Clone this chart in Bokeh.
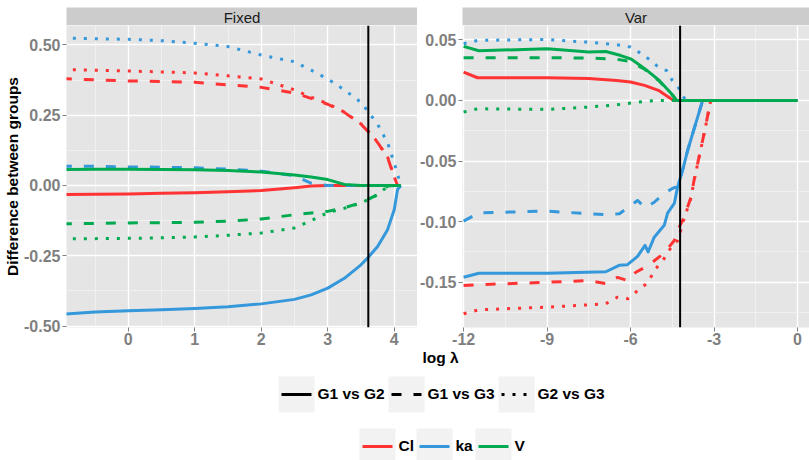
from bokeh.plotting import figure
from bokeh.models import Range1d, FixedTicker, Span, Spacer
from bokeh.layouts import row, column
from bokeh.core.properties import value
from bokeh.embed import file_html
from bokeh.resources import INLINE

FONT = "Liberation Sans"

# ---------------- data ----------------
params = ["Cl", "ka", "V"]
param_colors = ["#FF3333", "#3498DB", "#00AA50"]
comparisons = ["G1 vs G2", "G1 vs G3", "G2 vs G3"]
comparison_dashes = ["solid", "10 12", "3 8"]
panel_names = ["Fixed", "Var"]
vline_x = [3.61, -4.22]
x_title = "log \u03bb"
y_title = "Difference between groups"

# Fixed panel: shared log-lambda grid
fixed_x = [-1.0, -0.5, 0.0, 0.5, 1.0, 1.5, 2.0, 2.5, 2.75, 3.0, 3.25, 3.5, 3.6, 3.75, 3.9, 4.0, 4.05, 4.1]
fixed_cl_g1g2 = [-0.032, -0.031, -0.030, -0.028, -0.026, -0.022, -0.018, -0.008, -0.002, 0.0, 0.0, 0.0, 0.0, 0.0, 0.0, 0.0, 0.0, 0.0]
fixed_cl_g1g3 = [0.380, 0.376, 0.372, 0.370, 0.367, 0.358, 0.349, 0.329, 0.310, 0.289, 0.260, 0.218, 0.194, 0.153, 0.100, 0.030, 0.0, 0.0]
fixed_cl_g2g3 = [0.413, 0.410, 0.407, 0.404, 0.400, 0.390, 0.379, 0.340, 0.314, 0.291, 0.261, 0.219, 0.195, 0.154, 0.101, 0.031, 0.0, 0.0]
fixed_ka_g1g2 = [-0.458, -0.450, -0.445, -0.442, -0.437, -0.431, -0.421, -0.405, -0.389, -0.365, -0.330, -0.282, -0.258, -0.217, -0.157, -0.086, -0.014, 0.0]
fixed_ka_g1g3 = [0.069, 0.068, 0.066, 0.065, 0.063, 0.058, 0.051, 0.035, 0.008, 0.0, 0.0, 0.0, 0.0, 0.0, 0.0, 0.0, 0.0, 0.0]
fixed_ka_g2g3 = [0.525, 0.522, 0.520, 0.515, 0.506, 0.494, 0.464, 0.440, 0.410, 0.379, 0.340, 0.296, 0.265, 0.218, 0.152, 0.080, 0.040, 0.0]
fixed_v_g1g2 = [0.057, 0.058, 0.058, 0.057, 0.056, 0.053, 0.048, 0.037, 0.030, 0.021, 0.004, 0.0, 0.0, 0.0, 0.0, 0.0, 0.0, 0.0]
fixed_v_g1g3 = [-0.136, -0.135, -0.133, -0.132, -0.131, -0.127, -0.119, -0.104, -0.098, -0.092, -0.079, -0.061, -0.050, -0.032, -0.002, 0.0, 0.0, 0.0]
fixed_v_g2g3 = [-0.190, -0.189, -0.188, -0.186, -0.183, -0.177, -0.169, -0.151, -0.125, -0.097, -0.081, -0.062, -0.051, -0.033, -0.003, 0.0, 0.0, 0.0]

# Var panel: each series with its own log-lambda points
var_cl_g1g2_x = [-12.0, -11.5, -9.0, -7.5, -6.5, -6.0, -5.5, -5.0, -4.55, -4.45, 0.0]
var_cl_g1g2_y = [0.0234, 0.0187, 0.0187, 0.0180, 0.0165, 0.0152, 0.0124, 0.0083, 0.0014, 0.0, 0.0]
var_cl_g1g3_x = [-12.0, -11.45, -9.0, -7.5, -6.9, -6.47, -6.11, -5.81, -5.51, -5.21, -4.91, -4.67, -4.43, -4.25, -4.07, -3.83, -3.72, -3.54, -3.36, -3.24, -3.12, 0.0]
var_cl_g1g3_y = [-0.1526, -0.1520, -0.1500, -0.1485, -0.1510, -0.1460, -0.1485, -0.1417, -0.1380, -0.1334, -0.1280, -0.1224, -0.1155, -0.1045, -0.0960, -0.0800, -0.0660, -0.0468, -0.0275, -0.0138, 0.0, 0.0]
var_cl_g2g3_x = [-12.0, -11.45, -9.0, -6.9, -6.47, -6.1, -5.75, -5.4, -5.1, -4.8, -4.5, -4.3, -4.07, -3.83, -3.72, -3.54, -3.36, -3.24, -3.12, 0.0]
var_cl_g2g3_y = [-0.1760, -0.1727, -0.1705, -0.1678, -0.1623, -0.1636, -0.1570, -0.1507, -0.1390, -0.1306, -0.1196, -0.1155, -0.0970, -0.0805, -0.0665, -0.0472, -0.0278, -0.0140, 0.0, 0.0]
var_ka_g1g2_x = [-12.0, -11.45, -9.0, -6.89, -6.41, -6.11, -5.75, -5.48, -5.37, -5.15, -4.79, -4.67, -4.43, -4.31, -4.1, -3.95, -3.77, -3.59, -3.41, 0.0]
var_ka_g1g2_y = [-0.1458, -0.1425, -0.1425, -0.1413, -0.1360, -0.1355, -0.1287, -0.1196, -0.1250, -0.1128, -0.1030, -0.0930, -0.0850, -0.0715, -0.0550, -0.0413, -0.0275, -0.0138, 0.0, 0.0]
var_ka_g1g3_x = [-12.0, -11.45, -9.0, -6.9, -6.4, -5.75, -5.48, -5.15, -4.8, -4.45, -4.31, -4.1, -3.95, -3.77, -3.59, -3.41, 0.0]
var_ka_g1g3_y = [-0.0996, -0.0927, -0.0913, -0.0943, -0.0935, -0.0825, -0.0885, -0.0840, -0.0767, -0.0720, -0.0715, -0.0550, -0.0413, -0.0275, -0.0138, 0.0, 0.0]
var_ka_g2g3_x = [-12.0, -11.5, -9.0, -7.5, -6.5, -6.0, -5.5, -5.0, -4.7, -4.5, -4.3, -4.1, -4.0, 0.0]
var_ka_g2g3_y = [0.0468, 0.0495, 0.0503, 0.0480, 0.0460, 0.0440, 0.0370, 0.0275, 0.0245, 0.0165, 0.0115, 0.0030, 0.0, 0.0]
var_v_g1g2_x = [-12.0, -11.45, -9.0, -7.5, -6.89, -6.35, -5.97, -5.48, -4.97, -4.47, -4.35, 0.0]
var_v_g1g2_y = [0.0446, 0.0410, 0.0426, 0.0400, 0.0404, 0.0370, 0.0340, 0.0260, 0.0165, 0.0040, 0.0, 0.0]
var_v_g1g3_x = [-12.0, -9.0, -7.5, -6.5, -6.0, -5.48, -4.97, -4.47, -4.35, 0.0]
var_v_g1g3_y = [0.0352, 0.0352, 0.0350, 0.0340, 0.0320, 0.0255, 0.0160, 0.0035, 0.0, 0.0]
var_v_g2g3_x = [-12.0, -11.5, -9.0, -7.5, -6.5, -5.5, -5.0, 0.0]
var_v_g2g3_y = [-0.0096, -0.0069, -0.0074, -0.0055, -0.0036, -0.0008, 0.0, 0.0]

# axes
fixed_x_range = (-0.93, 4.35)
fixed_y_range = (-0.505, 0.569)
var_x_range = (-12.04, 0.43)
var_y_range = (-0.1873, 0.0618)
fixed_x_ticks = [0, 1, 2, 3, 4]
fixed_x_labels = ["0", "1", "2", "3", "4"]
fixed_x_minor = [-0.5, 0.5, 1.5, 2.5, 3.5]
fixed_y_ticks = [-0.5, -0.25, 0.0, 0.25, 0.5]
fixed_y_labels = ["-0.50", "-0.25", "0.00", "0.25", "0.50"]
fixed_y_minor = [-0.375, -0.125, 0.125, 0.375]
var_x_ticks = [-12, -9, -6, -3, 0]
var_x_labels = ["-12", "-9", "-6", "-3", "0"]
var_x_minor = [-10.5, -7.5, -4.5, -1.5]
var_y_ticks = [-0.15, -0.10, -0.05, 0.0, 0.05]
var_y_labels = ["-0.15", "-0.10", "-0.05", "0.00", "0.05"]
var_y_minor = [-0.175, -0.125, -0.075, -0.025, 0.025]

fixed_series = {
    ("Cl", "G1 vs G2"): (fixed_x, fixed_cl_g1g2),
    ("Cl", "G1 vs G3"): (fixed_x, fixed_cl_g1g3),
    ("Cl", "G2 vs G3"): (fixed_x, fixed_cl_g2g3),
    ("ka", "G1 vs G2"): (fixed_x, fixed_ka_g1g2),
    ("ka", "G1 vs G3"): (fixed_x, fixed_ka_g1g3),
    ("ka", "G2 vs G3"): (fixed_x, fixed_ka_g2g3),
    ("V", "G1 vs G2"): (fixed_x, fixed_v_g1g2),
    ("V", "G1 vs G3"): (fixed_x, fixed_v_g1g3),
    ("V", "G2 vs G3"): (fixed_x, fixed_v_g2g3),
}
var_series = {
    ("Cl", "G1 vs G2"): (var_cl_g1g2_x, var_cl_g1g2_y),
    ("Cl", "G1 vs G3"): (var_cl_g1g3_x, var_cl_g1g3_y),
    ("Cl", "G2 vs G3"): (var_cl_g2g3_x, var_cl_g2g3_y),
    ("ka", "G1 vs G2"): (var_ka_g1g2_x, var_ka_g1g2_y),
    ("ka", "G1 vs G3"): (var_ka_g1g3_x, var_ka_g1g3_y),
    ("ka", "G2 vs G3"): (var_ka_g2g3_x, var_ka_g2g3_y),
    ("V", "G1 vs G2"): (var_v_g1g2_x, var_v_g1g2_y),
    ("V", "G1 vs G3"): (var_v_g1g3_x, var_v_g1g3_y),
    ("V", "G2 vs G3"): (var_v_g2g3_x, var_v_g2g3_y),
}

# ---------------- layout sizes (page pixels) ----------------
TOP_PAD = 7
STRIP_H = 18
FRAME_H = 302
AXIS_B = 23
LEFT1, FRAME_W1 = 66, 351
LEFT2, FRAME_W2 = 45, 347
TOTAL_W = LEFT1 + FRAME_W1 + LEFT2 + FRAME_W2      # 809
LEG_TOP = TOP_PAD + STRIP_H + FRAME_H + AXIS_B      # 350
LEG_H = 460 - LEG_TOP

TICK_COLOR = "#7F7F7F"


def blank_fig(w, h, xr, yr, bg="white"):
    f = figure(width=w, height=h, x_range=Range1d(*xr), y_range=Range1d(*yr),
               toolbar_location=None, output_backend="svg", min_border=0,
               x_axis_type=None, y_axis_type=None,
               background_fill_color=bg, border_fill_color=bg,
               outline_line_color=None)
    f.grid.visible = False
    return f


def strip(name, w):
    s = blank_fig(w, STRIP_H, (0, 1), (0, 1), bg="#CCCCCC")
    s.text(x=[0.5], y=[0.45], text=[name], text_align="center", text_baseline="middle",
           text_font=value(FONT), text_font_size="15px", text_color="#1A1A1A")
    return s


def panel(series, frame_w, left, xr, yr, xt, xl, xm, yt, yl, ym, vline, with_title):
    p = figure(width=left + frame_w, height=FRAME_H + AXIS_B,
               x_range=Range1d(*xr), y_range=Range1d(*yr),
               toolbar_location=None, output_backend="svg",
               min_border_left=left, min_border_right=0, min_border_top=0,
               min_border_bottom=AXIS_B,
               background_fill_color="#E5E5E5", border_fill_color="white",
               outline_line_color=None)
    p.xaxis.ticker = FixedTicker(ticks=xt, minor_ticks=xm)
    p.yaxis.ticker = FixedTicker(ticks=yt, minor_ticks=ym)
    p.xaxis.major_label_overrides = dict(zip(xt, xl))
    p.yaxis.major_label_overrides = dict(zip(yt, yl))
    p.xgrid.ticker = p.xaxis.ticker
    p.ygrid.ticker = p.yaxis.ticker
    for g in (p.xgrid[0], p.ygrid[0]):
        g.grid_line_color = "white"
        g.grid_line_width = 1.4
        g.minor_grid_line_color = "#F2F2F2"
        g.minor_grid_line_width = 0.8
    for ax in (p.xaxis[0], p.yaxis[0]):
        ax.axis_line_color = None
        ax.major_tick_line_color = TICK_COLOR
        ax.major_tick_line_width = 1
        ax.major_tick_in = 0
        ax.major_tick_out = 4
        ax.minor_tick_line_color = None
        ax.major_label_text_font = FONT
        ax.major_label_text_font_style = "bold"
        ax.major_label_text_font_size = "16px"
        ax.major_label_text_color = TICK_COLOR
    p.xaxis.major_label_standoff = 1
    p.yaxis.major_label_standoff = 2
    if with_title:
        p.yaxis.axis_label = y_title
        p.yaxis.axis_label_text_font = FONT
        p.yaxis.axis_label_text_font_style = "bold"
        p.yaxis.axis_label_text_font_size = "15.5px"
        p.yaxis.axis_label_text_color = "black"
        p.yaxis.axis_label_standoff = 0
    for prm, col in zip(params, param_colors):
        for comp, dash in zip(comparisons, comparison_dashes):
            xs, ys = series[(prm, comp)]
            p.line(xs, ys, line_color=col, line_width=3, line_dash=dash, line_join="round")
    p.add_layout(Span(location=vline, dimension="height", line_color="black", line_width=2))
    return p


p1 = panel(fixed_series, FRAME_W1, LEFT1, fixed_x_range, fixed_y_range,
           fixed_x_ticks, fixed_x_labels, fixed_x_minor,
           fixed_y_ticks, fixed_y_labels, fixed_y_minor, vline_x[0], True)
p2 = panel(var_series, FRAME_W2, LEFT2, var_x_range, var_y_range,
           var_x_ticks, var_x_labels, var_x_minor,
           var_y_ticks, var_y_labels, var_y_minor, vline_x[1], False)

# ---------------- bottom: x title + legends (coordinates in page pixels) ----------------
leg = blank_fig(TOTAL_W, LEG_H, (0, TOTAL_W), (LEG_TOP + LEG_H, LEG_TOP))
leg.text(x=[440], y=[357], text=[x_title], text_align="center", text_baseline="middle",
         text_font=value(FONT), text_font_style="bold", text_font_size="15.5px", text_color="black")

KEY = 36
row1_key_x = [296, 406, 516]
row1_y = 394
row2_key_x = [377, 434, 493]
row2_y = 446

leg.rect(x=row1_key_x, y=[row1_y] * 3, width=KEY, height=KEY, fill_color="#F2F2F2", line_color=None)
leg.rect(x=row2_key_x, y=[row2_y] * 3, width=KEY, height=KEY, fill_color="#F2F2F2", line_color=None)
for kx, dash in zip(row1_key_x, comparison_dashes):
    leg.line([kx - 15, kx + 15], [row1_y, row1_y], line_color="black", line_width=3, line_dash=dash)
for kx, col in zip(row2_key_x, param_colors):
    leg.line([kx - 15, kx + 15], [row2_y, row2_y], line_color=col, line_width=3)
leg.text(x=[k + KEY / 2 + 3 for k in row1_key_x], y=[row1_y - 1] * 3, text=comparisons,
         text_align="left", text_baseline="middle", text_font=value(FONT),
         text_font_style="bold", text_font_size="15.5px", text_color="black")
leg.text(x=[k + KEY / 2 + 3 for k in row2_key_x], y=[row2_y - 1] * 3, text=params,
         text_align="left", text_baseline="middle", text_font=value(FONT),
         text_font_style="bold", text_font_size="15.5px", text_color="black")

top = row(Spacer(width=LEFT1, height=STRIP_H), strip(panel_names[0], FRAME_W1),
          Spacer(width=LEFT2, height=STRIP_H), strip(panel_names[1], FRAME_W2))
layout = column(Spacer(width=TOTAL_W, height=TOP_PAD), top, row(p1, p2), leg)

open("out.html", "w").write(file_html(layout, INLINE))
